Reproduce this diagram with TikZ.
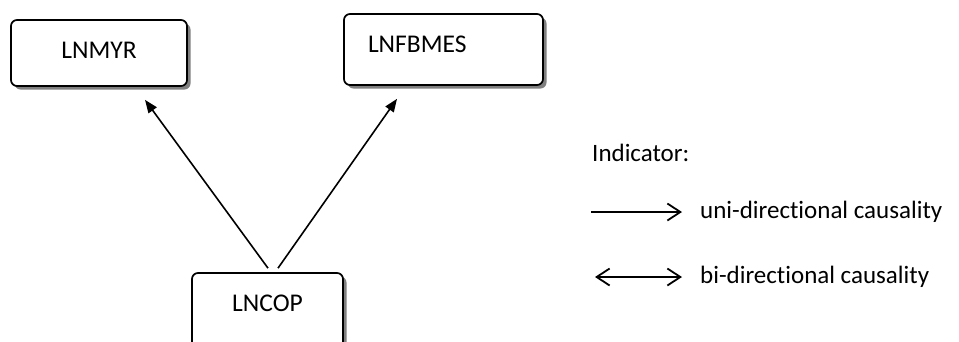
\documentclass[tikz,border=0pt]{standalone}
\usepackage{fontspec}
\setmainfont[Ligatures=NoCommon]{Carlito}
\usetikzlibrary{arrows.meta,shadows,calc}
\begin{document}
\begin{tikzpicture}[x=1pt,y=-1pt,
  box/.style={draw, line width=1.7pt, rounded corners=6pt, fill=white, inner sep=0pt,
    drop shadow={shadow xshift=3.5pt, shadow yshift=-3.5pt, fill=black!50, opacity=1},
    font=\fontsize{25.5}{30}\selectfont},
  arr/.style={line width=1.6pt, -{Triangle[length=13pt,width=10pt]}},
  legtext/.style={inner sep=0pt, anchor=base west, font=\fontsize{25}{30}\selectfont},
  legarr/.style={line width=1.8pt}
]
\useasboundingbox (0,0) rectangle (959,341);
\node[box, minimum width=176pt, text height=38pt, text depth=28pt] (myr) at (99,53) {LNMYR};
\node[box, text width=151pt, inner xsep=24pt, text height=38.5pt, text depth=32.5pt, align=left] (fb) at (443.5,49.5) {LNFBMES};
\node[box, minimum width=151pt, text height=38pt, text depth=46pt] (cop) at (267.5,315) {LNCOP};
\draw[arr] ($(cop.north)+(0.5,-4)$) -- ($(myr.south)+(46,13)$);
\draw[arr] ($(cop.north)+(10.5,-4)$) -- ($(fb.south)+(-46.5,13)$);
\node[legtext] (ind) at (592,161) {Indicator:};
\coordinate (u1) at (591,212);
\coordinate (u2) at (682,212);
\draw[legarr, -{Straight Barb[length=13pt,width=17pt]}] (u1) -- (u2);
\node[legtext] (ut) at (700,218) {uni-directional causality};
\coordinate (b1) at (595,277);
\coordinate (b2) at (682,277);
\draw[legarr, {Straight Barb[length=13pt,width=17pt]}-{Straight Barb[length=13pt,width=17pt]}] (b1) -- (b2);
\node[legtext] (bt) at (700,283) {bi-directional causality};
\end{tikzpicture}
\end{document}
